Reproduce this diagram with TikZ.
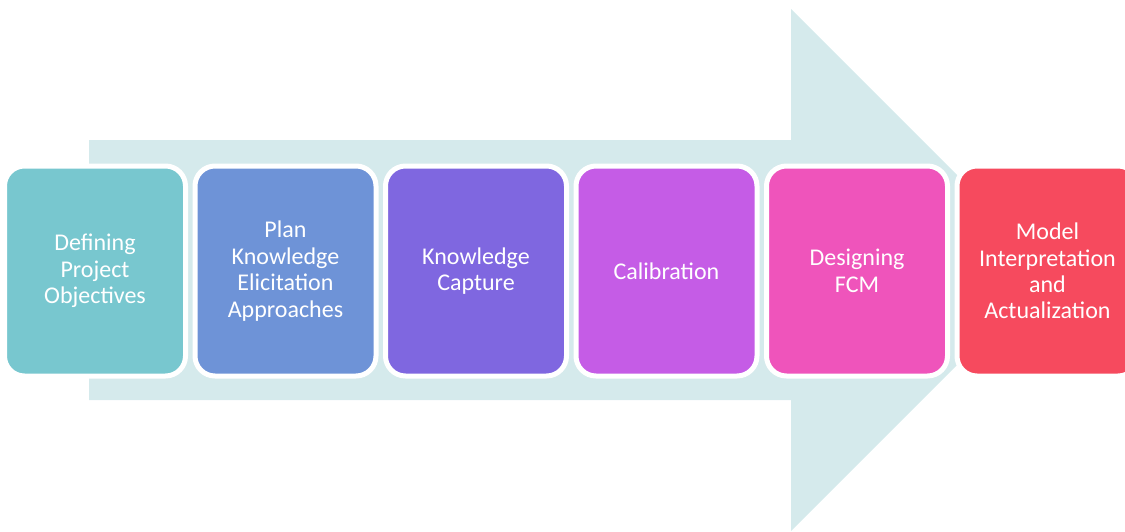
\documentclass[tikz,border=0pt]{standalone}
\usepackage{fontspec}
\setmainfont{Carlito}
\usetikzlibrary{positioning}
\definecolor{arrowbg}{HTML}{D5EAEC}
\definecolor{phaseA}{HTML}{78C7CF}
\definecolor{phaseB}{HTML}{6E93D7}
\definecolor{phaseC}{HTML}{7F67E0}
\definecolor{phaseD}{HTML}{C55CE6}
\definecolor{phaseE}{HTML}{EF54BB}
\definecolor{phaseF}{HTML}{F64A5E}
\tikzset{
  phase/.style={draw=white, line width=5pt, rounded corners=20pt,
    minimum width=181pt, minimum height=210pt, inner sep=0pt,
    text width=172pt, align=center, text=white,
    font=\fontsize{24}{26.5}\selectfont}
}
\begin{document}
\begin{tikzpicture}[x=1pt,y=-1pt]
      \useasboundingbox (0,0) rectangle (1125,531);
      % big background arrow
      \fill[arrowbg] (89,140) -- (791,140) -- (791,9) -- (1052,270)
        -- (791,531) -- (791,400) -- (89,400) -- cycle;
      \node[phase, fill=phaseA] (obj) at (95,271) {Defining\\Project\\Objectives};
      \node[phase, fill=phaseB, right=4.5pt of obj] (plan) {Plan\\Knowledge\\Elicitation\\Approaches};
      \node[phase, fill=phaseC, right=4.5pt of plan] (capt) {Knowledge\\Capture};
      \node[phase, fill=phaseD, right=4.5pt of capt] (calib) {Calibration};
      \node[phase, fill=phaseE, right=4.5pt of calib] (fcm) {Designing\\FCM};
      \node[phase, fill=phaseF, right=4.5pt of fcm] (interp) {Model\\Interpretation\\and\\Actualization};
    \end{tikzpicture}
\end{document}
